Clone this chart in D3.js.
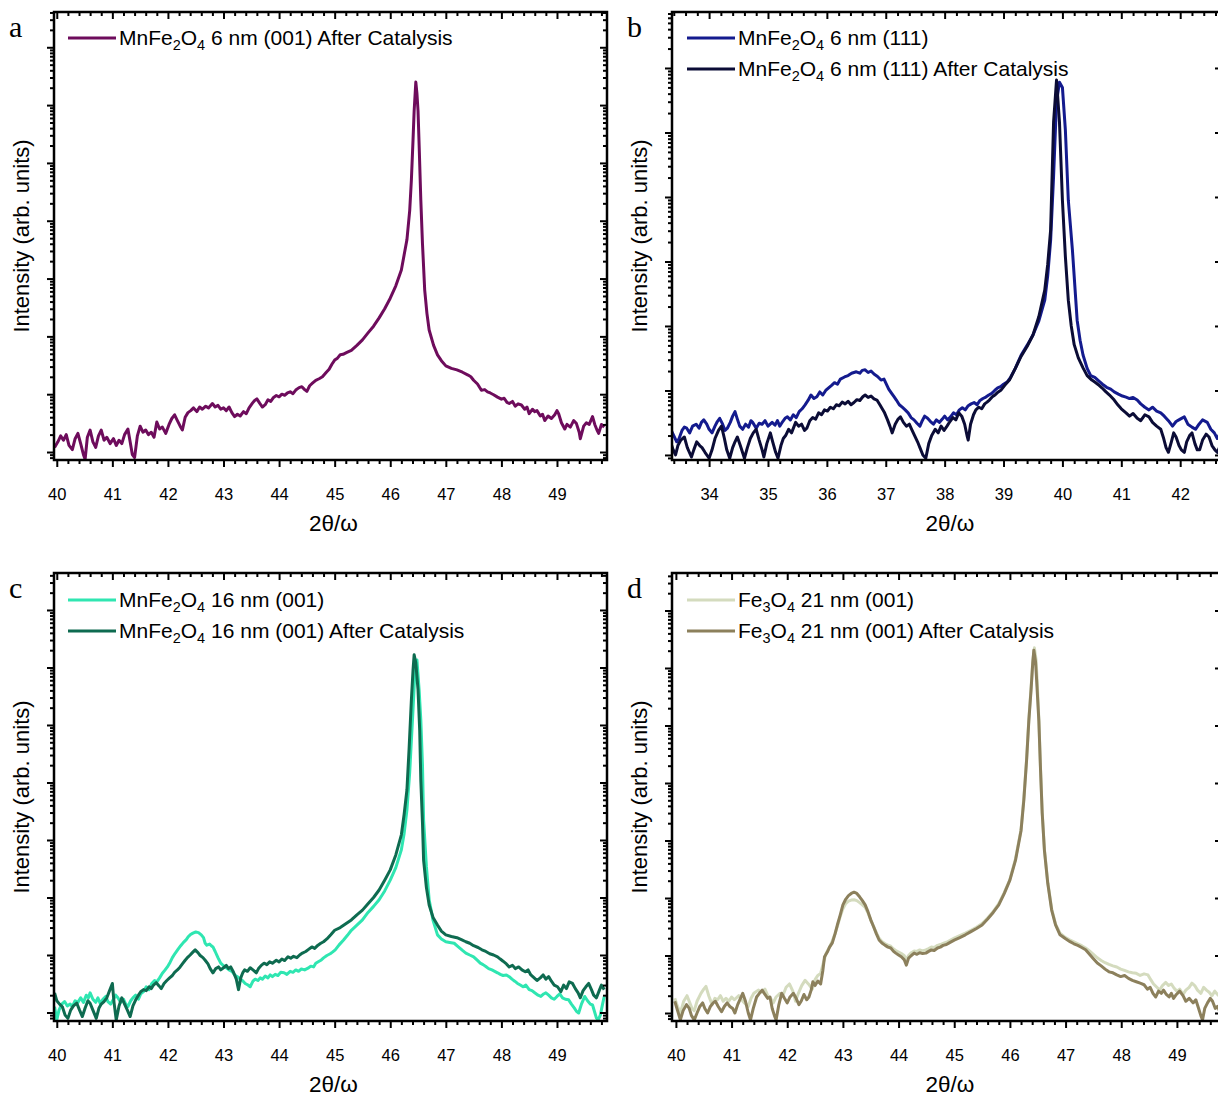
<!DOCTYPE html>
<html>
<head>
<meta charset="utf-8">
<script src="https://cdn.jsdelivr.net/npm/d3@7"></script>
<style>
  body { margin: 0; background: #fff; }
  text { font-family: "Liberation Sans", Arial, sans-serif; fill: #000; }
</style>
</head>
<body>
<div class="tool"></div>
<script>
var width = 1218, height = 1096;

// ---- data: [2theta, intensity (counts)] ----
var mn6_001_after = [[39.96,12],[40.02,15],[40.07,19],[40.12,16],[40.17,20],[40.22,13],[40.28,11],[40.33,17],[40.38,21],[40.43,14],[40.48,9],[40.51,7.5],[40.55,18],[40.6,24],[40.65,15],[40.7,12],[40.75,19],[40.8,24],[40.85,16],[40.9,18],[40.96,14],[41.02,17],[41.07,13],[41.12,16],[41.17,14],[41.22,20],[41.28,25],[41.32,15],[41.36,9],[41.4,8],[41.45,19],[41.5,28],[41.55,22],[41.6,24],[41.65,20],[41.7,22],[41.75,18],[41.8,33],[41.85,25],[41.9,27],[41.96,21],[42.02,30],[42.07,38],[42.12,44],[42.17,35],[42.22,28],[42.26,24],[42.31,40],[42.36,48],[42.41,52],[42.46,58],[42.52,50],[42.57,60],[42.62,55],[42.68,62],[42.73,58],[42.8,69],[42.85,60],[42.9,64],[42.95,55],[43.0,58],[43.05,52],[43.1,60],[43.15,48],[43.2,41],[43.25,45],[43.3,42],[43.36,50],[43.41,46],[43.46,58],[43.52,70],[43.56,78],[43.6,83],[43.65,70],[43.7,60],[43.75,66],[43.8,80],[43.85,75],[43.9,88],[43.95,95],[44.0,90],[44.05,100],[44.1,96],[44.15,105],[44.2,110],[44.25,102],[44.3,118],[44.36,130],[44.41,135],[44.46,120],[44.5,112],[44.55,140],[44.6,155],[44.66,174],[44.72,185],[44.78,200],[44.85,240],[44.9,270],[44.95,330],[45.0,389],[45.05,420],[45.1,480],[45.15,490],[45.22,530],[45.3,575],[45.4,700],[45.5,871],[45.6,1150],[45.7,1500],[45.8,2090],[45.9,3000],[46.0,4570],[46.1,7500],[46.2,14100],[46.3,46800],[46.35,150000],[46.38,501000],[46.41,2.5e6],[46.43,7.9e6],[46.46,2.5e7],[46.48,1.6e7],[46.5,7.9e6],[46.52,2e6],[46.55,229000],[46.58,40000],[46.62,6310],[46.66,2500],[46.7,1290],[46.78,700],[46.85,479],[46.92,380],[47.0,309],[47.1,280],[47.2,263],[47.3,240],[47.4,214],[47.45,200],[47.5,174],[47.57,150],[47.64,117],[47.7,120],[47.75,110],[47.8,105],[47.86,98],[47.93,89],[48.0,82],[48.05,85],[48.1,72],[48.14,69],[48.2,75],[48.25,62],[48.3,68],[48.36,65],[48.42,55],[48.46,60],[48.5,46],[48.56,55],[48.6,50],[48.64,52],[48.7,42],[48.74,45],[48.78,35],[48.84,42],[48.9,38],[48.96,44],[49.0,52],[49.03,46],[49.08,32],[49.14,25],[49.18,30],[49.24,27],[49.3,35],[49.35,31],[49.4,22],[49.42,17],[49.48,28],[49.53,32],[49.58,30],[49.64,41],[49.68,30],[49.72,24],[49.75,21],[49.8,30],[49.85,27]];

var mn6_111 = [[33.35,25],[33.4,20],[33.45,16],[33.49,18],[33.54,24],[33.58,27],[33.62,26],[33.67,22],[33.72,28],[33.78,30],[33.83,26],[33.87,32],[33.91,35],[33.96,30],[34.0,25],[34.05,22],[34.1,28],[34.14,33],[34.18,37],[34.23,30],[34.27,24],[34.31,26],[34.36,32],[34.4,40],[34.44,47],[34.48,36],[34.52,28],[34.57,25],[34.62,30],[34.67,27],[34.71,34],[34.74,32],[34.8,26],[34.85,31],[34.9,30],[34.95,34],[35.0,28],[35.07,32],[35.12,29],[35.16,34],[35.2,28],[35.25,33],[35.29,37],[35.33,39],[35.38,35],[35.43,42],[35.48,38],[35.53,47],[35.58,52],[35.63,60],[35.68,70],[35.73,85],[35.78,75],[35.83,80],[35.88,95],[35.93,85],[35.98,100],[36.03,110],[36.08,120],[36.13,132],[36.18,125],[36.23,150],[36.3,162],[36.36,170],[36.42,185],[36.5,195],[36.56,185],[36.6,205],[36.65,209],[36.7,190],[36.75,200],[36.8,180],[36.86,165],[36.92,145],[36.97,150],[37.02,120],[37.05,105],[37.1,90],[37.14,80],[37.18,71],[37.23,60],[37.28,55],[37.33,50],[37.38,45],[37.43,38],[37.48,35],[37.53,31],[37.58,28],[37.62,34],[37.66,40],[37.71,37],[37.76,33],[37.81,30],[37.86,35],[37.91,32],[37.96,36],[38.0,40],[38.05,35],[38.1,39],[38.15,45],[38.2,42],[38.25,50],[38.3,54],[38.35,50],[38.4,58],[38.45,62],[38.5,65],[38.55,60],[38.6,70],[38.65,75],[38.7,79],[38.75,85],[38.8,90],[38.85,100],[38.9,110],[38.95,115],[39.0,125],[39.06,135],[39.12,160],[39.2,220],[39.3,355],[39.4,500],[39.5,724],[39.6,1200],[39.7,2510],[39.75,6000],[39.8,21400],[39.85,210000],[39.9,3.0e6],[39.95,6.0e6],[40.0,5.0e6],[40.05,1.1e6],[40.1,89000],[40.17,15000],[40.25,1230],[40.3,600],[40.35,355],[40.42,220],[40.48,170],[40.55,160],[40.62,140],[40.68,125],[40.75,112],[40.82,105],[40.88,95],[40.95,88],[41.02,82],[41.08,79],[41.14,75],[41.2,78],[41.27,71],[41.33,62],[41.4,55],[41.47,50],[41.53,55],[41.6,48],[41.67,45],[41.73,40],[41.8,34],[41.87,28],[41.93,33],[42.0,36],[42.07,39],[42.13,30],[42.2,27],[42.26,25],[42.32,30],[42.38,35],[42.46,32],[42.52,25],[42.58,22],[42.63,18],[42.68,22]];

var mn6_111_after = [[33.35,15.5],[33.39,12],[33.43,10],[33.47,14],[33.52,17],[33.58,19],[33.63,13],[33.7,9.3],[33.74,12],[33.79,16],[33.84,14],[33.88,13],[33.93,11],[34.0,8.9],[34.05,12],[34.1,18],[34.16,24],[34.21,28],[34.26,18],[34.3,12],[34.35,8.9],[34.4,13],[34.44,16],[34.48,19],[34.53,14],[34.6,8.9],[34.65,13],[34.7,18],[34.75,22],[34.8,25],[34.85,17],[34.9,12],[34.93,9.3],[34.98,15],[35.04,22],[35.08,16],[35.13,11],[35.17,8.9],[35.22,14],[35.26,18],[35.3,20],[35.35,25],[35.4,22],[35.47,32],[35.52,28],[35.57,30],[35.62,24],[35.66,26],[35.71,34],[35.76,38],[35.81,36],[35.86,45],[35.91,42],[35.96,50],[36.01,48],[36.06,55],[36.11,52],[36.16,60],[36.21,58],[36.26,66],[36.31,62],[36.36,68],[36.41,60],[36.46,65],[36.51,72],[36.56,70],[36.61,80],[36.65,85],[36.7,78],[36.75,82],[36.8,74],[36.85,71],[36.9,60],[36.94,52],[36.98,45],[37.03,35],[37.07,28],[37.11,22],[37.16,30],[37.21,36],[37.25,39],[37.3,32],[37.35,28],[37.4,30],[37.44,25],[37.49,20],[37.54,16],[37.58,13],[37.63,10],[37.68,8.9],[37.73,15],[37.78,20],[37.84,25],[37.89,22],[37.94,28],[37.99,24],[38.04,28],[38.09,33],[38.14,38],[38.19,35],[38.24,45],[38.29,40],[38.34,30],[38.38,20],[38.4,17],[38.44,30],[38.49,42],[38.53,50],[38.58,55],[38.63,52],[38.68,62],[38.72,66],[38.76,71],[38.81,80],[38.86,86],[38.91,95],[38.96,102],[39.02,120],[39.1,145],[39.2,220],[39.3,340],[39.4,480],[39.5,724],[39.6,1400],[39.7,3600],[39.75,9000],[39.8,31000],[39.85,1.45e6],[39.9,6.5e6],[39.95,1.45e6],[40.0,89000],[40.05,12000],[40.1,2510],[40.15,1000],[40.2,513],[40.27,320],[40.35,224],[40.42,170],[40.5,145],[40.55,135],[40.61,123],[40.67,110],[40.74,95],[40.8,85],[40.88,71],[40.94,60],[41.0,52],[41.08,45],[41.14,40],[41.2,44],[41.27,37],[41.33,34],[41.4,42],[41.47,39],[41.53,32],[41.6,28],[41.67,25],[41.72,18],[41.76,13],[41.8,11],[41.85,16],[41.89,22],[41.93,19],[41.98,14],[42.02,12],[42.07,11],[42.11,16],[42.16,20],[42.2,22],[42.25,15],[42.29,12],[42.33,12],[42.38,17],[42.44,21],[42.49,19],[42.54,14],[42.59,12],[42.63,11],[42.68,14]];

var mn16_001 = [[39.96,12.6],[40.0,7.4],[40.04,11],[40.09,14],[40.14,15.5],[40.19,13],[40.24,14],[40.28,12.6],[40.33,16],[40.38,15],[40.43,18],[40.48,15],[40.53,20],[40.57,18],[40.6,22],[40.65,17],[40.7,15],[40.74,18],[40.78,14.5],[40.83,17],[40.88,19],[40.92,15.5],[40.97,14],[41.02,17],[41.06,20],[41.1,18],[41.15,15],[41.2,17],[41.24,14],[41.28,12.6],[41.33,16],[41.37,18],[41.42,20],[41.47,17],[41.51,21],[41.56,23],[41.61,28],[41.66,25],[41.71,32],[41.76,36],[41.8,34],[41.85,40],[41.9,48],[41.95,55],[41.99,62],[42.04,75],[42.08,90],[42.13,107],[42.18,125],[42.23,145],[42.28,166],[42.33,185],[42.37,210],[42.4,224],[42.45,240],[42.5,251],[42.55,245],[42.6,224],[42.64,200],[42.67,160],[42.7,148],[42.75,155],[42.78,145],[42.81,138],[42.85,115],[42.9,90],[42.95,72],[43.0,65],[43.05,60],[43.1,55],[43.16,51],[43.2,45],[43.25,42],[43.3,38],[43.34,36],[43.39,32],[43.44,30],[43.48,28],[43.53,35],[43.57,38],[43.62,36],[43.66,40],[43.7,38],[43.75,43],[43.8,40],[43.84,45],[43.88,42],[43.93,46],[43.98,44],[44.03,50],[44.09,49],[44.14,46],[44.2,52],[44.25,50],[44.3,55],[44.35,52],[44.4,57],[44.46,55],[44.52,59],[44.57,64],[44.62,62],[44.66,72],[44.72,78],[44.76,82],[44.8,89],[44.86,98],[44.92,105],[44.96,112],[45.01,123],[45.08,150],[45.16,182],[45.23,220],[45.3,269],[45.4,330],[45.5,407],[45.6,550],[45.7,700],[45.8,912],[45.9,1300],[46.0,2000],[46.1,3300],[46.2,6760],[46.25,13000],[46.3,33100],[46.35,150000],[46.4,1.23e6],[46.45,1.1e7],[46.48,1.35e7],[46.52,4e6],[46.55,1.23e6],[46.58,200000],[46.6,22400],[46.65,3500],[46.7,912],[46.77,400],[46.85,224],[46.92,190],[47.0,170],[47.07,165],[47.15,160],[47.22,140],[47.3,120],[47.36,108],[47.43,100],[47.5,93],[47.56,82],[47.62,72],[47.67,68],[47.72,63],[47.77,58],[47.83,55],[47.88,52],[47.93,49],[47.98,46],[48.03,44],[48.09,45],[48.14,42],[48.19,38],[48.24,35],[48.29,32],[48.34,30],[48.39,28],[48.44,30],[48.5,25],[48.55,24],[48.6,22],[48.66,20],[48.71,19],[48.76,21],[48.8,22],[48.85,20],[48.9,18],[48.95,17],[49.0,19],[49.05,21],[49.1,18],[49.15,17],[49.21,16.6],[49.26,14],[49.31,12],[49.35,10.5],[49.39,9.8],[49.44,14],[49.5,19],[49.55,16],[49.6,14],[49.64,13.5],[49.68,10],[49.71,8],[49.74,7.4],[49.78,9],[49.82,14],[49.85,19]];

var mn16_001_after = [[39.96,22],[40.0,16],[40.05,14],[40.1,12.6],[40.15,9],[40.2,7.9],[40.25,11],[40.3,13],[40.36,14.5],[40.41,11],[40.46,8.5],[40.51,12],[40.56,16],[40.6,14.5],[40.65,11],[40.71,7.9],[40.76,12],[40.8,14],[40.85,15.5],[40.9,18],[40.95,24],[41.0,32],[41.03,15],[41.07,7.4],[41.12,13],[41.17,18],[41.22,14],[41.27,11],[41.32,8.5],[41.37,13],[41.42,16.6],[41.47,20],[41.51,23],[41.56,25],[41.61,24],[41.66,28],[41.7,26],[41.74,30],[41.79,33],[41.84,29],[41.88,26],[41.93,32],[41.98,36],[42.03,40],[42.08,44],[42.12,50],[42.17,55],[42.22,62],[42.26,70],[42.31,81],[42.36,92],[42.4,100],[42.44,110],[42.49,123],[42.54,110],[42.58,98],[42.63,90],[42.67,81],[42.72,70],[42.76,58],[42.81,49],[42.86,58],[42.91,62],[42.95,55],[43.0,60],[43.05,66],[43.09,58],[43.13,62],[43.18,50],[43.23,38],[43.27,25],[43.31,40],[43.35,50],[43.38,55],[43.43,52],[43.48,60],[43.53,55],[43.59,49],[43.63,58],[43.68,66],[43.73,72],[43.78,68],[43.83,76],[43.88,72],[43.95,81],[44.0,76],[44.05,85],[44.1,80],[44.16,93],[44.21,88],[44.26,95],[44.32,90],[44.37,100],[44.42,108],[44.48,115],[44.53,125],[44.59,138],[44.64,130],[44.7,148],[44.75,160],[44.8,170],[44.86,190],[44.93,225],[45.0,269],[45.1,300],[45.2,350],[45.3,407],[45.4,500],[45.5,603],[45.6,780],[45.7,1000],[45.8,1350],[45.9,2000],[46.0,3020],[46.1,5500],[46.2,12300],[46.25,28000],[46.3,74100],[46.34,400000],[46.38,2.69e6],[46.41,9e6],[46.43,1.66e7],[46.46,1.2e7],[46.5,4.07e6],[46.53,800000],[46.55,110000],[46.58,20000],[46.6,4470],[46.65,1500],[46.7,741],[46.77,450],[46.85,331],[46.92,260],[47.0,224],[47.1,210],[47.2,200],[47.28,185],[47.36,170],[47.43,160],[47.5,145],[47.58,135],[47.65,123],[47.72,115],[47.79,105],[47.86,100],[47.93,93],[47.98,85],[48.03,78],[48.09,70],[48.14,62],[48.2,66],[48.25,58],[48.31,62],[48.37,55],[48.43,51],[48.48,55],[48.53,45],[48.59,40],[48.64,36],[48.7,40],[48.75,45],[48.8,38],[48.85,42],[48.9,35],[48.95,30],[49.01,28],[49.07,23],[49.12,30],[49.17,26],[49.22,34],[49.28,32],[49.33,26],[49.38,22],[49.42,18],[49.47,24],[49.52,28],[49.57,32],[49.62,25],[49.66,20],[49.71,18],[49.76,24],[49.8,30],[49.85,25]];

var fe21_001 = [[39.98,18],[40.03,13],[40.08,10],[40.14,16],[40.2,20],[40.25,15],[40.29,12],[40.33,11],[40.38,16],[40.45,22],[40.5,26],[40.54,29],[40.59,20],[40.65,14],[40.7,18],[40.75,17],[40.8,20],[40.85,16],[40.9,18],[40.95,16],[41.0,19],[41.05,17],[41.13,20],[41.18,17],[41.23,15],[41.3,13],[41.35,18],[41.4,22],[41.48,25],[41.54,23],[41.6,26],[41.65,20],[41.7,18],[41.75,15],[41.8,19],[41.87,22],[41.92,20],[41.98,28],[42.04,32],[42.1,24],[42.15,16],[42.2,22],[42.26,30],[42.32,37],[42.38,32],[42.45,26],[42.5,38],[42.55,45],[42.6,49],[42.65,75],[42.7,110],[42.76,140],[42.81,180],[42.86,240],[42.9,320],[42.95,470],[43.0,650],[43.05,800],[43.1,880],[43.15,920],[43.2,933],[43.25,900],[43.3,830],[43.35,760],[43.4,690],[43.45,550],[43.5,417],[43.55,320],[43.6,250],[43.65,200],[43.7,175],[43.76,160],[43.81,152],[43.86,145],[43.91,130],[43.95,122],[44.0,115],[44.05,108],[44.1,100],[44.14,85],[44.18,100],[44.23,112],[44.28,120],[44.33,118],[44.38,125],[44.43,120],[44.49,125],[44.54,132],[44.59,140],[44.64,138],[44.7,150],[44.75,155],[44.8,162],[44.86,170],[44.91,180],[45.0,200],[45.1,222],[45.2,245],[45.3,275],[45.4,310],[45.5,360],[45.6,450],[45.7,580],[45.8,800],[45.9,1250],[46.0,2100],[46.1,4800],[46.2,15500],[46.25,55000],[46.3,260000],[46.34,1.3e6],[46.38,4.5e6],[46.41,1.3e7],[46.44,2.24e7],[46.47,1.4e7],[46.49,6e6],[46.52,1.3e6],[46.55,180000],[46.58,32000],[46.62,7000],[46.68,1900],[46.75,650],[46.82,350],[46.9,245],[47.0,205],[47.08,185],[47.15,172],[47.22,160],[47.29,148],[47.36,135],[47.43,120],[47.5,105],[47.57,91],[47.64,82],[47.71,75],[47.78,70],[47.85,66],[47.92,63],[47.99,58],[48.06,55],[48.13,52],[48.2,50],[48.27,49],[48.34,45],[48.41,48],[48.48,46],[48.53,38],[48.58,32],[48.64,28],[48.69,25],[48.74,30],[48.8,34],[48.85,30],[48.9,32],[48.95,27],[49.0,24],[49.05,26],[49.11,21],[49.16,25],[49.22,28],[49.27,33],[49.32,30],[49.37,25],[49.43,22],[49.48,28],[49.53,25],[49.58,23],[49.63,20],[49.68,24],[49.73,21],[49.78,19]];

var fe21_001_after = [[39.98,16],[40.03,11],[40.08,7.6],[40.13,11],[40.19,14],[40.24,12],[40.28,9],[40.33,7.6],[40.38,10],[40.43,13],[40.48,15],[40.52,12],[40.57,10],[40.62,13],[40.67,15],[40.71,16],[40.76,13],[40.82,10.5],[40.87,13],[40.92,15],[40.97,13],[41.02,12],[41.06,10],[41.11,14],[41.16,18],[41.2,22],[41.25,16],[41.3,10],[41.34,7.6],[41.39,12],[41.45,19],[41.5,22],[41.55,25],[41.6,21],[41.65,18],[41.69,19],[41.73,12],[41.77,9],[41.8,7.6],[41.85,14],[41.9,22],[41.95,18],[42.0,15],[42.05,19],[42.11,22],[42.16,18],[42.21,14],[42.25,16],[42.3,21],[42.35,17],[42.39,19],[42.43,25],[42.46,35],[42.5,30],[42.55,36],[42.6,32],[42.64,55],[42.67,95],[42.72,115],[42.76,140],[42.81,166],[42.86,240],[42.9,339],[42.95,500],[43.0,759],[43.05,950],[43.1,1100],[43.15,1200],[43.2,1260],[43.25,1200],[43.3,1050],[43.35,900],[43.4,759],[43.45,580],[43.5,417],[43.55,320],[43.6,240],[43.65,186],[43.7,165],[43.76,150],[43.81,140],[43.86,135],[43.91,118],[43.95,110],[44.0,102],[44.05,95],[44.1,85],[44.14,68],[44.18,90],[44.23,100],[44.28,110],[44.33,105],[44.38,112],[44.43,108],[44.49,110],[44.54,118],[44.59,125],[44.64,122],[44.7,135],[44.75,140],[44.8,150],[44.86,155],[44.91,166],[45.0,185],[45.1,205],[45.2,229],[45.3,260],[45.4,295],[45.5,339],[45.6,430],[45.7,560],[45.8,759],[45.9,1200],[46.0,2040],[46.1,4500],[46.2,14800],[46.25,50000],[46.3,251000],[46.34,1.2e6],[46.38,4.17e6],[46.41,1.2e7],[46.43,2.04e7],[46.46,1.3e7],[46.48,6.17e6],[46.52,1.2e6],[46.55,170000],[46.58,30000],[46.62,6760],[46.68,1800],[46.75,617],[46.82,340],[46.9,229],[47.0,195],[47.08,174],[47.15,160],[47.22,150],[47.29,138],[47.36,126],[47.43,105],[47.5,88],[47.57,74],[47.64,66],[47.71,58],[47.78,52],[47.85,50],[47.92,46],[47.99,43],[48.06,45],[48.13,40],[48.2,37],[48.27,35],[48.34,33],[48.41,31],[48.47,26],[48.52,28],[48.57,22],[48.62,19],[48.67,24],[48.72,22],[48.76,25],[48.81,21],[48.86,19],[48.9,22],[48.94,18],[48.99,21],[49.05,24],[49.11,20],[49.16,16],[49.22,18],[49.29,15],[49.34,17],[49.39,12],[49.43,9],[49.46,7.6],[49.5,12],[49.55,15],[49.6,18],[49.64,16],[49.69,12],[49.73,13],[49.78,10]];

// axis limits per panel
var xLimA = [39.95, 49.9], yLimA = [Math.pow(10, 0.862), Math.pow(10, 8.61)];
var xLimB = [33.37, 42.71], yLimB = [Math.pow(10, 0.922), Math.pow(10, 7.868)];
var xLimC = [39.95, 49.9], yLimC = [Math.pow(10, 0.852), Math.pow(10, 8.643)];
var xLimD = [39.93, 49.81], yLimD = [Math.pow(10, 0.861), Math.pow(10, 8.652)];

var panels = [
  { letter: "a", left: 54, top: 12, w: 553, h: 448, xLim: xLimA, yLim: yLimA,
    series: [{ data: mn6_001_after, color: "#6e0c5c", label: [["MnFe"], ["2", 1], ["O"], ["4", 1], [" 6 nm (001) After Catalysis"]] }] },
  { letter: "b", left: 672, top: 12, w: 550, h: 448, xLim: xLimB, yLim: yLimB,
    series: [{ data: mn6_111, color: "#141b8e", label: [["MnFe"], ["2", 1], ["O"], ["4", 1], [" 6 nm (111)"]] },
             { data: mn6_111_after, color: "#0b0c36", label: [["MnFe"], ["2", 1], ["O"], ["4", 1], [" 6 nm (111) After Catalysis"]] }] },
  { letter: "c", left: 54, top: 573, w: 553, h: 448, xLim: xLimC, yLim: yLimC,
    series: [{ data: mn16_001, color: "#2fe6b1", label: [["MnFe"], ["2", 1], ["O"], ["4", 1], [" 16 nm (001)"]] },
             { data: mn16_001_after, color: "#0e6b50", label: [["MnFe"], ["2", 1], ["O"], ["4", 1], [" 16 nm (001) After Catalysis"]] }] },
  { letter: "d", left: 672, top: 573, w: 550, h: 448, xLim: xLimD, yLim: yLimD,
    series: [{ data: fe21_001, color: "#d4dbbe", label: [["Fe"], ["3", 1], ["O"], ["4", 1], [" 21 nm (001)"]] },
             { data: fe21_001_after, color: "#8c805c", label: [["Fe"], ["3", 1], ["O"], ["4", 1], [" 21 nm (001) After Catalysis"]] }] }
];

var svg = d3.select(".tool")
    .append("svg")
    .attr("width", width)
    .attr("height", height)
    .style("display", "block");

svg.append("rect").attr("width", width).attr("height", height).attr("fill", "#fff");

panels.forEach(function(p, pi) {
  var g = svg.append("g").attr("transform", "translate(" + p.left + "," + p.top + ")");
  var x = d3.scaleLinear().domain(p.xLim).range([0, p.w]);
  var y = d3.scaleLog().domain(p.yLim).range([p.h, 0]);

  // tick values
  var xMajor = d3.range(Math.ceil(p.xLim[0]), Math.floor(p.xLim[1]) + 1);
  var xMinor = d3.range(Math.ceil(p.xLim[0] * 5), Math.floor(p.xLim[1] * 5) + 1)
      .filter(function(k) { return k % 5 !== 0; })
      .map(function(k) { return k / 5; });
  var yMajor = [], yMinor = [];
  for (var k = Math.floor(Math.log10(p.yLim[0])); k <= Math.ceil(Math.log10(p.yLim[1])); k++) {
    var v = Math.pow(10, k);
    if (v >= p.yLim[0] && v <= p.yLim[1]) yMajor.push(v);
    for (var m = 2; m <= 9; m++) {
      var mv = m * v;
      if (mv >= p.yLim[0] && mv <= p.yLim[1]) yMinor.push(mv);
    }
  }

  // clip
  g.append("clipPath").attr("id", "clip" + pi)
    .append("rect").attr("width", p.w).attr("height", p.h);

  var line = d3.line()
      .x(function(d) { return x(d[0]); })
      .y(function(d) { return y(d[1]); });

  var plot = g.append("g").attr("clip-path", "url(#clip" + pi + ")");
  p.series.forEach(function(s) {
    plot.append("path")
      .datum(s.data)
      .attr("fill", "none")
      .attr("stroke", s.color)
      .attr("stroke-width", 3)
      .attr("stroke-linejoin", "round")
      .attr("d", line);
  });

  function styleAxis(sel) {
    sel.select(".domain").remove();
    sel.selectAll(".tick line").attr("stroke", "#000").attr("stroke-width", 2);
  }

  // bottom: outward ticks with labels
  g.append("g").attr("transform", "translate(0," + p.h + ")")
    .call(d3.axisBottom(x).tickValues(xMinor).tickSize(4).tickFormat(""))
    .call(styleAxis);
  g.append("g").attr("transform", "translate(0," + p.h + ")")
    .call(d3.axisBottom(x).tickValues(xMajor).tickSize(7).tickPadding(21).tickFormat(d3.format("d")))
    .call(styleAxis)
    .selectAll("text").style("font-size", "16.5px").style("font-family", "Liberation Sans, Arial, sans-serif");
  // top: inward
  g.append("g")
    .call(d3.axisTop(x).tickValues(xMinor).tickSize(-4).tickFormat(""))
    .call(styleAxis);
  g.append("g")
    .call(d3.axisTop(x).tickValues(xMajor).tickSize(-7).tickFormat(""))
    .call(styleAxis);
  // left: outward
  g.append("g")
    .call(d3.axisLeft(y).tickValues(yMinor).tickSize(4).tickFormat(""))
    .call(styleAxis);
  g.append("g")
    .call(d3.axisLeft(y).tickValues(yMajor).tickSize(7).tickFormat(""))
    .call(styleAxis);
  // right: inward
  g.append("g").attr("transform", "translate(" + p.w + ",0)")
    .call(d3.axisRight(y).tickValues(yMinor).tickSize(-4).tickFormat(""))
    .call(styleAxis);
  g.append("g").attr("transform", "translate(" + p.w + ",0)")
    .call(d3.axisRight(y).tickValues(yMajor).tickSize(-7).tickFormat(""))
    .call(styleAxis);

  // frame
  g.append("rect")
    .attr("width", p.w).attr("height", p.h)
    .attr("fill", "none").attr("stroke", "#000").attr("stroke-width", 2.5);

  // axis titles
  g.append("text")
    .attr("x", p.w / 2 + 3).attr("y", p.h + 71)
    .attr("text-anchor", "middle")
    .style("font-size", "22.5px")
    .text("2\u03B8/\u03C9");
  g.append("text")
    .attr("transform", "translate(-25," + (p.h / 2) + ") rotate(-90)")
    .attr("text-anchor", "middle")
    .style("font-size", "22px")
    .text("Intensity (arb. units)");

  // panel letter
  svg.append("text")
    .attr("x", p.left - 45).attr("y", p.top + 25)
    .style("font-family", "Liberation Serif, Times New Roman, serif")
    .style("font-size", "30px")
    .text(p.letter);

  // legend
  var lg = g.append("g").attr("transform", "translate(" + (pi % 2 === 0 ? 14 : 15) + "," + (pi < 2 ? 26 : 27) + ")");
  p.series.forEach(function(s, i) {
    var row = lg.append("g").attr("transform", "translate(0," + (i * 31) + ")");
    row.append("line")
      .attr("x1", 0).attr("x2", 48)
      .attr("stroke", s.color).attr("stroke-width", 3);
    var t = row.append("text").attr("x", 51).attr("y", 7).style("font-size", "21px");
    var shift = 0;
    s.label.forEach(function(part) {
      var ts = t.append("tspan").text(part[0]);
      if (part[1]) {
        ts.attr("dy", 5 - shift).style("font-size", "14.5px");
        shift = 5;
      } else {
        ts.attr("dy", -shift);
        shift = 0;
      }
    });
  });
});
</script>
</body>
</html>
